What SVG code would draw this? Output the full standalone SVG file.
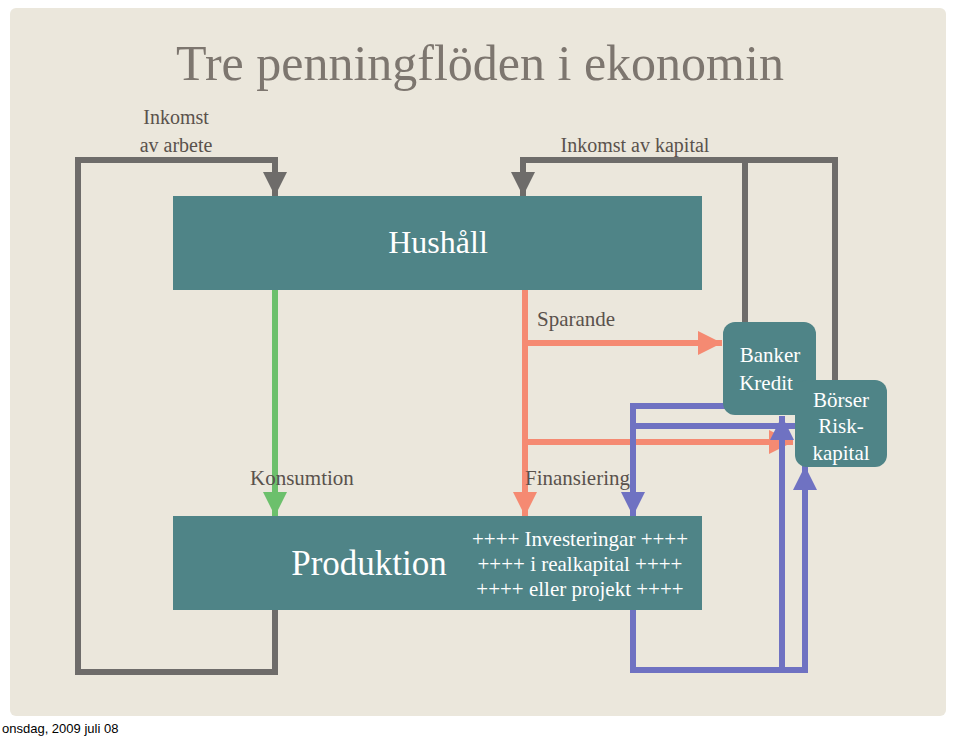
<svg xmlns="http://www.w3.org/2000/svg" width="960" height="736" viewBox="0 0 960 736">
<style>
.t{font-family:"Liberation Serif",serif;fill:#5a524c}
.w{font-family:"Liberation Serif",serif;fill:#fff}
.g{stroke:#6e6c6a;stroke-width:6;fill:none}
.b{stroke:#6f72c2;stroke-width:6;fill:none}
.r{stroke:#f58a72;stroke-width:6;fill:none}
.box{fill:#4f8487}
</style>
<defs>
<marker id="ag" viewBox="0 0 10 10" refX="10" refY="5" markerWidth="4" markerHeight="4" orient="auto" markerUnits="strokeWidth"><path d="M0,0L10,5L0,10z" fill="#6e6c6a"/></marker>
<marker id="ab" viewBox="0 0 10 10" refX="10" refY="5" markerWidth="4" markerHeight="4" orient="auto" markerUnits="strokeWidth"><path d="M0,0L10,5L0,10z" fill="#6f72c2"/></marker>
<marker id="ar" viewBox="0 0 10 10" refX="10" refY="5" markerWidth="4" markerHeight="4" orient="auto" markerUnits="strokeWidth"><path d="M0,0L10,5L0,10z" fill="#f58a72"/></marker>
<marker id="agr" viewBox="0 0 10 10" refX="10" refY="5" markerWidth="4" markerHeight="4" orient="auto" markerUnits="strokeWidth"><path d="M0,0L10,5L0,10z" fill="#6cc06c"/></marker>
</defs>
<rect width="960" height="736" fill="#fff"/>
<rect x="10" y="8" width="936" height="708" rx="6" fill="#ebe7dc"/>
<text x="480" y="80" text-anchor="middle" class="t" font-size="50" style="fill:#7d766f">Tre penningflöden i ekonomin</text>
<text x="176" y="124" text-anchor="middle" class="t" font-size="20">Inkomst</text>
<text x="176" y="152" text-anchor="middle" class="t" font-size="20">av arbete</text>
<text x="635" y="152" text-anchor="middle" class="t" font-size="20">Inkomst av kapital</text>
<g id="connectors">
<path class="g" d="M275,610V672H78V160H275V196" marker-end="url(#ag)"/>
<path class="g" d="M745,322V160H523V196" marker-end="url(#ag)"/>
<path class="g" d="M835,380V160H745"/>
<path d="M275,290V516" stroke="#6cc06c" stroke-width="6" fill="none" marker-end="url(#agr)"/>
<path class="r" d="M525,290V516" marker-end="url(#ar)"/>
<path class="r" d="M525,343H722" marker-end="url(#ar)"/>
<path class="r" d="M525,442H793" marker-end="url(#ar)"/>
<path class="b" d="M727,406H633V516" marker-end="url(#ab)"/>
<path class="b" d="M633,426H795"/>
<path class="b" d="M633,610V670H805V466" marker-end="url(#ab)"/>
<path class="b" d="M782,670V416" marker-end="url(#ab)"/>
</g>
<g id="hushall"><rect class="box" x="173" y="196" width="529" height="94"/><text x="438" y="253" text-anchor="middle" class="w" font-size="32">Hushåll</text></g>
<g id="produktion"><rect class="box" x="173" y="516" width="529" height="94"/>
<text x="369" y="575" text-anchor="middle" class="w" font-size="35">Produktion</text>
<text x="580" y="546" text-anchor="middle" class="w" font-size="21">++++ Investeringar ++++</text>
<text x="580" y="571" text-anchor="middle" class="w" font-size="21">++++  i realkapital  ++++</text>
<text x="580" y="596" text-anchor="middle" class="w" font-size="21">++++ eller projekt  ++++</text></g>
<g id="banker"><rect class="box" x="723" y="322" width="93" height="93" rx="12"/>
<text x="770" y="362" text-anchor="middle" class="w" font-size="21">Banker</text>
<text x="766" y="390" text-anchor="middle" class="w" font-size="21">Kredit</text></g>
<g id="borser"><rect class="box" x="795" y="380" width="92" height="87" rx="12"/>
<text x="841" y="407" text-anchor="middle" class="w" font-size="21">Börser</text>
<text x="841" y="433" text-anchor="middle" class="w" font-size="21">Risk-</text>
<text x="841" y="460" text-anchor="middle" class="w" font-size="21">kapital</text></g>
<text x="537" y="326" class="t" font-size="21">Sparande</text>
<text x="250" y="485" class="t" font-size="21">Konsumtion</text>
<text x="525" y="485" class="t" font-size="21">Finansiering</text>
<text x="2" y="733" font-family="Liberation Sans,sans-serif" font-size="13" fill="#000">onsdag, 2009 juli 08</text>
</svg>
